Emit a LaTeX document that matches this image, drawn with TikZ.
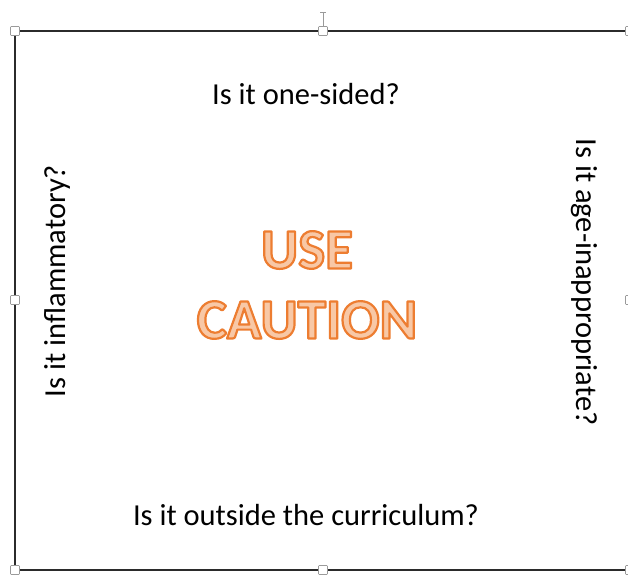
\documentclass[tikz,border=0pt]{standalone}
\usepackage{fontspec}
\setmainfont{Carlito}
\definecolor{cautionline}{HTML}{ED7D31}
\definecolor{cautionfill}{HTML}{F8C8A6}
\definecolor{framegray}{HTML}{2B2B2B}
\definecolor{handlegray}{HTML}{9A9A9A}
% outlined lettering: fill in cautionfill, stroke in orange (text render mode 2)
\newcommand{\outlinedword}[1]{\textcolor{cautionfill}{%
  \special{pdf:literal q 2 Tr 2.2 w 1 j 0.929 0.490 0.192 RG}#1\special{pdf:literal Q}}}
\begin{document}
\begin{tikzpicture}[x=1pt,y=-1pt,
  question/.style={font=\fontsize{30.5}{34}\selectfont, inner sep=0pt},
  caution/.style={font=\bfseries\fontsize{57}{62}\selectfont, inner sep=0pt},
  handle/.style={draw=handlegray, fill=white, line width=0.6pt, minimum size=9pt, inner sep=0pt, rounded corners=0.8pt}]
\useasboundingbox (0,0) rectangle (628,576);
\fill[white] (0,0) rectangle (628,576);
% text box frame
\draw[framegray, line width=1.8pt] (15,31) -- (630,31);
\draw[framegray, line width=1.8pt] (15,570) -- (630,570);
\draw[framegray, line width=1.4pt] (15,31) -- (15,570);
% rotation handle
\draw[handlegray, line width=0.8pt] (323,31) -- (323,12);
\draw[handlegray, line width=0.8pt] (320,12) -- (326,12);
% sizing handles
\node[handle] (h1) at (15,31) {};
\node[handle] (h2) at (323,31) {};
\node[handle] (h3) at (630,31) {};
\node[handle] (h4) at (15,300) {};
\node[handle] (h5) at (630,300) {};
\node[handle] (h6) at (15,570) {};
\node[handle] (h7) at (323,570) {};
\node[handle] (h8) at (630,570) {};
% questions
\node[question] (top) at (306,94) {Is it one-sided?};
\node[question] (bottom) at (306,515) {Is it outside the curriculum?};
\node[question, rotate=90] (left) at (57,281) {Is it inflammatory?};
\node[question, rotate=-90] (right) at (584,282) {Is it age-inappropriate?};
% warning
\node[caution] (use) at (307,250) {\outlinedword{USE}};
\node[caution] (caution) at (307,320) {\outlinedword{CAUTION}};
\end{tikzpicture}
\end{document}
